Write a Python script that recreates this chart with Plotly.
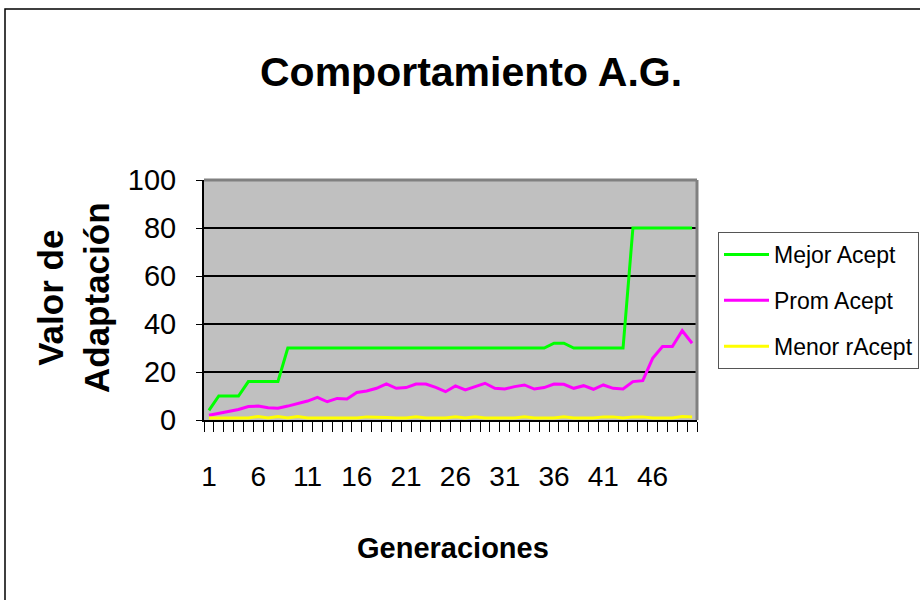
import plotly.graph_objects as go

generaciones = list(range(1, 51))
mejor_acept = [4, 10, 10, 10, 16, 16, 16, 16, 30, 30,
               30, 30, 30, 30, 30, 30, 30, 30, 30, 30,
               30, 30, 30, 30, 30, 30, 30, 30, 30, 30,
               30, 30, 30, 30, 30, 32, 32, 30, 30, 30,
               30, 30, 30, 80, 80, 80, 80, 80, 80, 80]
prom_acept = [2, 2.8, 3.9, 4.4, 5.6, 5.8, 5.1, 4.9, 5.8, 6.9,
              7.9, 9.4, 7.6, 9.0, 8.8, 11.5, 12.1, 13.2, 15.0, 13.2,
              13.5, 15.0, 15.0, 13.6, 11.8, 14.2, 12.5, 13.9, 15.3, 13.2,
              12.9, 13.9, 14.6, 12.9, 13.5, 15.0, 14.9, 13.2, 14.3, 12.8,
              14.6, 13.2, 12.9, 16.0, 16.4, 25.7, 30.6, 30.6, 37.2, 32.0]
menor_acept = [0.8, 0.8, 0.8, 0.8, 0.8, 1.5, 0.8, 1.5, 0.8, 1.5,
               0.8, 0.8, 0.8, 0.8, 0.8, 0.8, 1.3, 1.3, 1.0, 0.8,
               0.8, 1.3, 0.8, 0.8, 0.8, 1.3, 0.8, 1.3, 0.8, 0.8,
               0.8, 0.8, 1.3, 0.8, 0.8, 0.8, 1.3, 0.8, 0.8, 0.8,
               1.3, 1.3, 0.8, 1.3, 1.3, 0.8, 0.8, 0.8, 1.5, 1.3]
tick_vals = [1, 6, 11, 16, 21, 26, 31, 36, 41, 46]
tick_text = [str(v) for v in tick_vals]
series_names = ["Mejor Acept", "Prom Acept", "Menor rAcept"]

FONT = "Liberation Sans, Arial, sans-serif"

# plot-area pixel box (page coordinates)
L, R, T, B = 204, 697, 180, 420
W, H = 920, 600
PW, PH = R - L, B - T


def px(x):
    return (x - L) / PW


def py(y):
    return (B - y) / PH


fig = go.Figure()
for name, ys, col, grp in [(series_names[0], mejor_acept, "#00FF00", "a"),
                           (series_names[1], prom_acept, "#FF00FF", "b"),
                           (series_names[2], menor_acept, "#FFFF00", "c")]:
    fig.add_trace(go.Scatter(x=generaciones, y=ys, mode="lines", name=name,
                             legendgroup=grp, line=dict(color=col, width=3)))

fig.update_layout(
    width=W, height=H,
    margin=dict(l=L, r=W - R, t=T, b=H - B, autoexpand=False),
    paper_bgcolor="white",
    plot_bgcolor="#C0C0C0",
    font=dict(family=FONT, color="black"),
    showlegend=True,
    legend=dict(x=px(718), y=py(232), xanchor="left", yanchor="top",
                bgcolor="white", bordercolor="#555555", borderwidth=1,
                font=dict(family=FONT, size=23, color="black"),
                tracegroupgap=13, itemwidth=45, traceorder="grouped"),
    xaxis=dict(range=[0.5, 50.5], tickvals=tick_vals, ticktext=tick_text,
               ticks="", showgrid=False, zeroline=False,
               showline=True, linecolor="black", linewidth=2,
               tickfont=dict(family=FONT, size=28, color="black"),
               ticklabelstandoff=30,
               minor=dict(tickvals=[i + 0.5 for i in range(0, 51)], ticks="outside",
                          ticklen=10, tickcolor="black", tickwidth=1, showgrid=False)),
    yaxis=dict(range=[0, 100], tickvals=[0, 20, 40, 60, 80, 100],
               ticks="outside", ticklen=6, tickcolor="black", tickwidth=1,
               showgrid=True, gridcolor="black", gridwidth=1.5, zeroline=False,
               showline=True, linecolor="black", linewidth=2,
               tickfont=dict(family=FONT, size=29, color="black"),
               ticklabelstandoff=14),
)

# plot area top/right border (gray)
fig.add_shape(type="line", xref="paper", yref="paper", x0=0, x1=1, y0=1, y1=1,
              line=dict(color="#808080", width=3))
fig.add_shape(type="line", xref="paper", yref="paper", x0=1, x1=1, y0=0, y1=1,
              line=dict(color="#808080", width=3))
# outer chart border
fig.add_shape(type="rect", xref="paper", yref="paper",
              x0=px(5), x1=px(930), y0=py(610), y1=py(9),
              line=dict(color="black", width=1.5), layer="below")

fig.add_annotation(text="<b>Comportamiento A.G.</b>", xref="paper", yref="paper",
                   x=px(471), y=py(72), showarrow=False,
                   xanchor="center", yanchor="middle",
                   font=dict(family=FONT, size=41, color="black"))
fig.add_annotation(text="<b>Valor de<br>Adaptación</b>", xref="paper", yref="paper",
                   x=px(73), y=py(298), showarrow=False,
                   xanchor="center", yanchor="middle", textangle=-90,
                   font=dict(family=FONT, size=35, color="black"))
fig.add_annotation(text="<b>Generaciones</b>", xref="paper", yref="paper",
                   x=px(453), y=py(548), showarrow=False,
                   xanchor="center", yanchor="middle",
                   font=dict(family=FONT, size=29, color="black"))

fig.write_html("out.html", config={"displayModeBar": False},
               post_script="document.body.style.margin='0';")
